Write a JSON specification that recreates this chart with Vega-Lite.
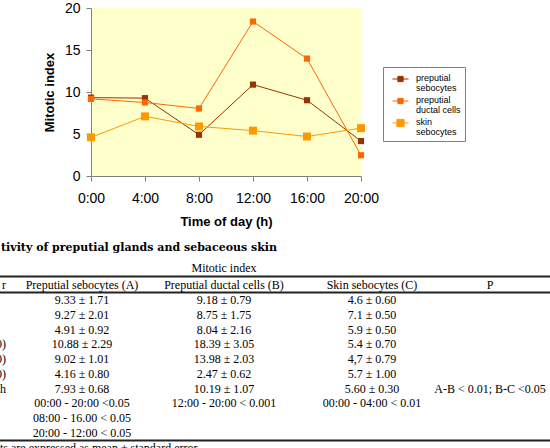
{
  "$schema": "https://vega.github.io/schema/vega-lite/v6.json",
  "width": 270,
  "height": 168,
  "autosize": {"type": "none"},
  "padding": {"left": 91, "top": 8, "right": 189, "bottom": 272},
  "background": "white",
  "config": {
    "view": {"stroke": null, "fill": "#FFFFCC"},
    "axis": {
      "domainColor": "#808080", "tickColor": "#808080", "tickSize": 5, "grid": false,
      "labelFont": "Liberation Sans", "labelFontSize": 14, "labelColor": "#000000",
      "titleFont": "Liberation Sans", "titleFontSize": 13, "titleFontWeight": "bold", "titleColor": "#000000"
    }
  },
  "datasets": {
    "series": [
      {"series": "preputial sebocytes", "hour": 0, "value": 9.33},
      {"series": "preputial sebocytes", "hour": 4, "value": 9.27},
      {"series": "preputial sebocytes", "hour": 8, "value": 4.91},
      {"series": "preputial sebocytes", "hour": 12, "value": 10.88},
      {"series": "preputial sebocytes", "hour": 16, "value": 9.02},
      {"series": "preputial sebocytes", "hour": 20, "value": 4.16},
      {"series": "preputial ductal cells", "hour": 0, "value": 9.18},
      {"series": "preputial ductal cells", "hour": 4, "value": 8.75},
      {"series": "preputial ductal cells", "hour": 8, "value": 8.04},
      {"series": "preputial ductal cells", "hour": 12, "value": 18.39},
      {"series": "preputial ductal cells", "hour": 16, "value": 13.98},
      {"series": "preputial ductal cells", "hour": 20, "value": 2.47},
      {"series": "skin sebocytes", "hour": 0, "value": 4.6},
      {"series": "skin sebocytes", "hour": 4, "value": 7.1},
      {"series": "skin sebocytes", "hour": 8, "value": 5.9},
      {"series": "skin sebocytes", "hour": 12, "value": 5.4},
      {"series": "skin sebocytes", "hour": 16, "value": 4.7},
      {"series": "skin sebocytes", "hour": 20, "value": 5.7}
    ],
    "table": [
      {"kind": "title", "row": -2, "col": -1, "text": "tivity of preputial glands and sebaceous skin"},
      {"kind": "cell", "row": -1, "col": 2, "text": "Mitotic index"},
      {"kind": "label", "row": 0, "col": 0, "text": "r"},
      {"kind": "cell", "row": 0, "col": 1, "text": "Preputial sebocytes (A)"},
      {"kind": "cell", "row": 0, "col": 2, "text": "Preputial ductal cells (B)"},
      {"kind": "cell", "row": 0, "col": 3, "text": "Skin sebocytes (C)"},
      {"kind": "cell", "row": 0, "col": 4, "text": "P"},
      {"kind": "cell", "row": 1, "col": 1, "text": "9.33 ± 1.71"},
      {"kind": "cell", "row": 1, "col": 2, "text": "9.18 ± 0.79"},
      {"kind": "cell", "row": 1, "col": 3, "text": "4.6 ± 0.60"},
      {"kind": "cell", "row": 2, "col": 1, "text": "9.27 ± 2.01"},
      {"kind": "cell", "row": 2, "col": 2, "text": "8.75 ± 1.75"},
      {"kind": "cell", "row": 2, "col": 3, "text": "7.1 ± 0.50"},
      {"kind": "cell", "row": 3, "col": 1, "text": "4.91 ± 0.92"},
      {"kind": "cell", "row": 3, "col": 2, "text": "8.04 ± 2.16"},
      {"kind": "cell", "row": 3, "col": 3, "text": "5.9 ± 0.50"},
      {"kind": "label", "row": 4, "col": 0, "text": "0)"},
      {"kind": "cell", "row": 4, "col": 1, "text": "10.88 ± 2.29"},
      {"kind": "cell", "row": 4, "col": 2, "text": "18.39 ± 3.05"},
      {"kind": "cell", "row": 4, "col": 3, "text": "5.4 ± 0.70"},
      {"kind": "label", "row": 5, "col": 0, "text": "0)"},
      {"kind": "cell", "row": 5, "col": 1, "text": "9.02 ± 1.01"},
      {"kind": "cell", "row": 5, "col": 2, "text": "13.98 ± 2.03"},
      {"kind": "cell", "row": 5, "col": 3, "text": "4,7 ± 0.79"},
      {"kind": "label", "row": 6, "col": 0, "text": "0)"},
      {"kind": "cell", "row": 6, "col": 1, "text": "4.16 ± 0.80"},
      {"kind": "cell", "row": 6, "col": 2, "text": "2.47 ± 0.62"},
      {"kind": "cell", "row": 6, "col": 3, "text": "5.7 ± 1.00"},
      {"kind": "label", "row": 7, "col": 0, "text": "h"},
      {"kind": "cell", "row": 7, "col": 1, "text": "7.93 ± 0.68"},
      {"kind": "cell", "row": 7, "col": 2, "text": "10.19 ± 1.07"},
      {"kind": "cell", "row": 7, "col": 3, "text": "5.60 ± 0.30"},
      {"kind": "cell", "row": 7, "col": 4, "text": "A-B < 0.01; B-C <0.05"},
      {"kind": "cell", "row": 8, "col": 1, "text": "00:00 - 20:00 <0.05"},
      {"kind": "cell", "row": 8, "col": 2, "text": "12:00 - 20:00 < 0.001"},
      {"kind": "cell", "row": 8, "col": 3, "text": "00:00 - 04:00 < 0.01"},
      {"kind": "cell", "row": 9, "col": 1, "text": "08:00 - 16.00 < 0.05"},
      {"kind": "cell", "row": 10, "col": 1, "text": "20:00 - 12:00 < 0.05"},
      {"kind": "note", "row": 11, "col": -1, "text": "ts are expressed as mean ± standard error"}
    ],
    "rules": [
      {"row": -0.5, "left": -1, "right": 5},
      {"row": 0.5, "left": -1, "right": 5},
      {"row": 10.5, "left": -1, "right": 5}
    ]
  },
  "layer": [
    {
      "data": {"name": "series"},
      "encoding": {
        "x": {
          "field": "hour", "type": "quantitative",
          "scale": {"domain": [0, 20], "nice": false, "zero": false},
          "axis": {"values": [0, 4, 8, 12, 16, 20], "labelExpr": "datum.value + ':00'", "title": "Time of day (h)",
                   "labelPadding": 10, "titlePadding": 10, "labelFlush": false, "labelOverlap": false}
        },
        "y": {
          "field": "value", "type": "quantitative",
          "scale": {"domain": [0, 20], "nice": false},
          "axis": {"values": [0, 5, 10, 15, 20], "title": "Mitotic index", "labelPadding": 6, "titlePadding": 8}
        },
        "color": {
          "field": "series", "type": "nominal",
          "scale": {"domain": ["preputial sebocytes", "preputial ductal cells", "skin sebocytes"], "range": ["#993300", "#FF6600", "#FF9900"]},
          "legend": {
            "orient": "none", "legendX": 292, "legendY": 59, "title": null,
            "labelFont": "Liberation Sans", "labelFontSize": 9, "labelColor": "#000000", "labelBaseline": "top",
            "strokeColor": "#808080", "padding": 4, "rowPadding": 0, "labelOffset": 7, "symbolOffset": 5,
            "symbolType": "M-1,0H1M-0.33,-0.33H0.33V0.33H-0.33Z", "symbolSize": 256, "symbolStrokeWidth": 1,
            "labelExpr": "datum.label == 'preputial ductal cells' ? ['preputial', 'ductal cells'] : split(datum.label, ' ')",
            "encode": {
              "symbols": {"update": {
                "fill": {"scale": "color", "field": "value"},
                "stroke": {"scale": "color", "field": "value"},
                "strokeWidth": {"value": 1},
                "opacity": {"value": 1},
                "size": {"value": 256},
                "y": {"value": 8},
                "shape": {"signal": "datum.value === 'skin sebocytes' ? 'M-1,0H1M-0.45,-0.45H0.45V0.45H-0.45Z' : 'M-1,0H1M-0.33,-0.33H0.33V0.33H-0.33Z'"}
              }},
              "labels": {"update": {"y": {"value": 3}, "baseline": {"value": "top"}, "lineHeight": {"value": 10}}}
            }
          }
        }
      },
      "layer": [
        {"mark": {"type": "line", "strokeWidth": 1}},
        {
          "transform": [{"filter": "datum.series !== 'skin sebocytes'"}],
          "mark": {"type": "point", "shape": "square", "filled": true, "opacity": 1, "size": 38}
        },
        {
          "transform": [{"filter": "datum.series === 'skin sebocytes'"}],
          "mark": {"type": "point", "shape": "square", "filled": true, "opacity": 1, "size": 64}
        }
      ]
    },
    {
      "layer": [
        {
          "data": {"name": "rules"},
          "mark": {"type": "rule", "color": "#222222", "strokeWidth": 2},
          "encoding": {
            "x": {
              "field": "left", "type": "quantitative",
              "scale": {"domain": [-1, 0, 1, 2, 3, 4, 5], "range": [-91, -85, -9, 133, 281, 399, 459], "nice": false, "zero": false},
              "axis": null
            },
            "x2": {"field": "right"},
            "y": {
              "field": "row", "type": "quantitative",
              "scale": {"domain": [-2, -1, 0, 1, 10, 11], "range": [240, 260, 277, 292, 425, 440], "nice": false, "zero": false},
              "axis": null
            }
          }
        },
        {
          "data": {"name": "table"},
          "encoding": {
            "x": {"field": "col", "type": "quantitative", "axis": null},
            "y": {"field": "row", "type": "quantitative", "axis": null},
            "text": {"field": "text"}
          },
          "layer": [
            {
              "transform": [{"filter": "datum.kind === 'cell'"}],
              "mark": {"type": "text", "font": "Liberation Serif", "fontSize": 12, "align": "center", "baseline": "middle", "color": "#000000"}
            },
            {
              "transform": [{"filter": "datum.kind === 'label'"}],
              "mark": {"type": "text", "font": "Liberation Serif", "fontSize": 12, "align": "right", "baseline": "middle", "color": "#000000"}
            },
            {
              "transform": [{"filter": "datum.kind === 'title'"}],
              "mark": {"type": "text", "font": "DejaVu Serif", "fontWeight": "bold", "fontSize": 11, "align": "left", "baseline": "middle", "color": "#000000", "dx": 1}
            },
            {
              "transform": [{"filter": "datum.kind === 'note'"}],
              "mark": {"type": "text", "font": "Liberation Serif", "fontSize": 12, "align": "left", "baseline": "middle", "color": "#000000"}
            }
          ]
        }
      ]
    }
  ],
  "resolve": {"scale": {"x": "independent", "y": "independent"}, "axis": {"x": "independent", "y": "independent"}}
}
